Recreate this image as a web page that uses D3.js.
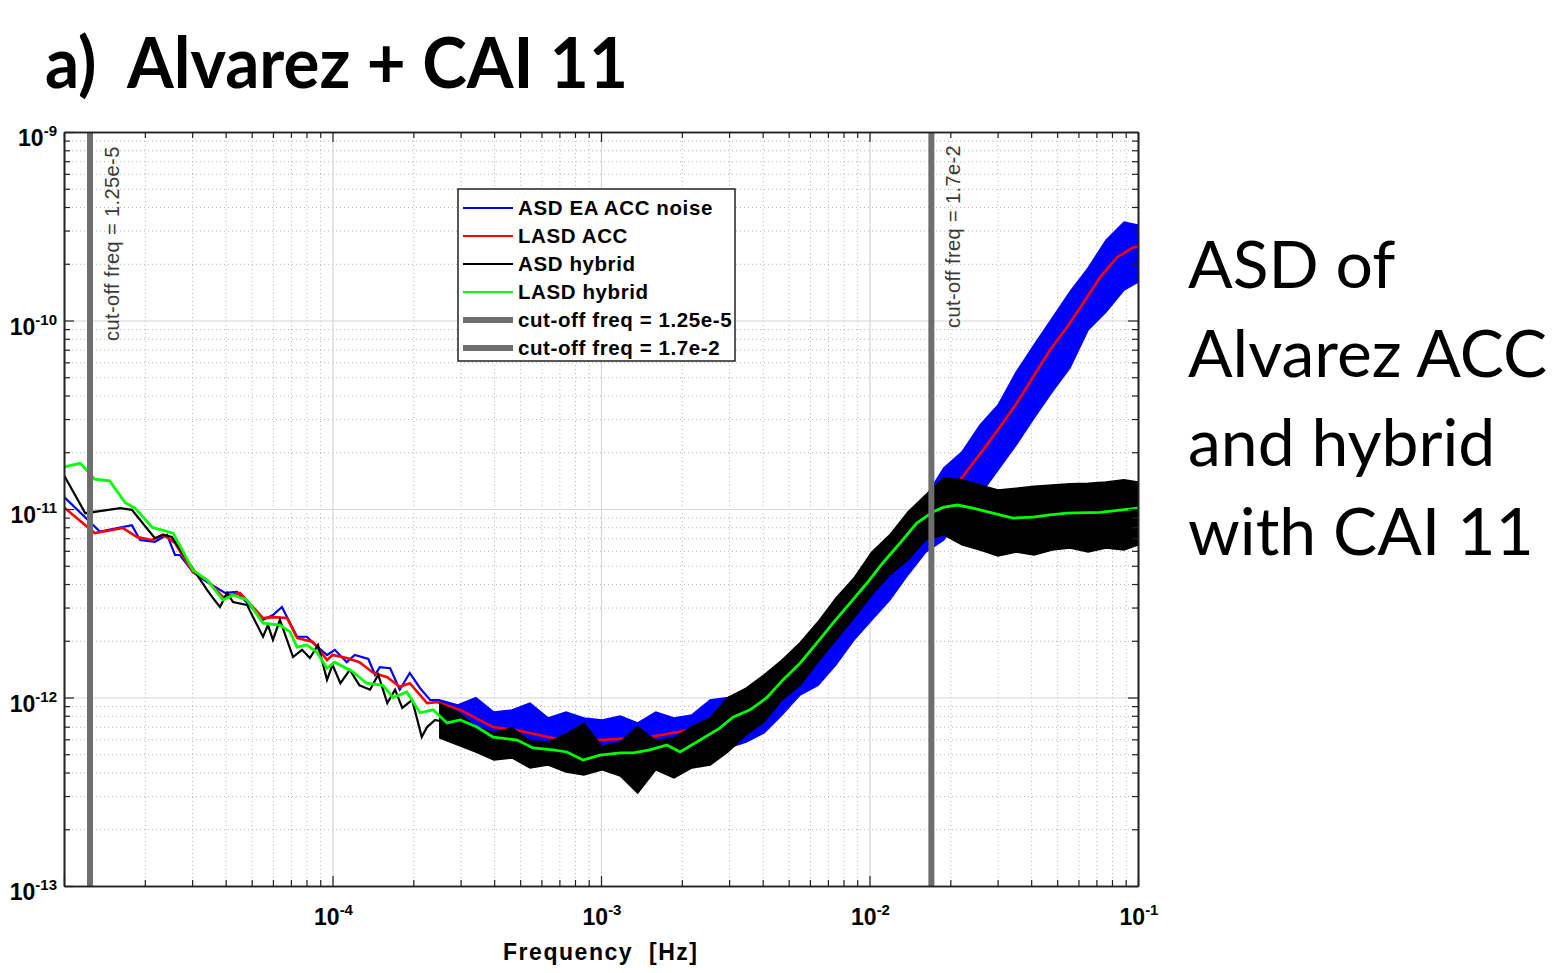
<!DOCTYPE html>
<html>
<head>
<meta charset="utf-8">
<script src="https://cdn.jsdelivr.net/npm/d3@7"></script>
<style>
  body { margin: 0; background: #fff; }
</style>
</head>
<body>
<script>

// ---- data ----
var xTickValues = [1e-4, 1e-3, 1e-2, 1e-1]
var xTickLabels = ["-4", "-3", "-2", "-1"]
var yTickValues = [1e-13, 1e-12, 1e-11, 1e-10, 1e-9]
var yTickLabels = ["-13", "-12", "-11", "-10", "-9"]

var cutoffFreqs = [1.25e-5, 1.7e-2]
var cutoffLabels = ["cut-off freq = 1.25e-5", "cut-off freq = 1.7e-2"]

var legendLabels = ["ASD EA ACC noise", "LASD ACC", "ASD hybrid", "LASD hybrid",
  "cut-off freq = 1.25e-5", "cut-off freq = 1.7e-2"]
var legendColors = ["#0000ff", "#ff0000", "#000000", "#00ff00", "#6e6e6e", "#6e6e6e"]

// low frequency part of the raw ASDs (single traces)
var blueFreq = [1.00e-5,1.36e-5,1.79e-5,1.92e-5,2.18e-5,2.42e-5,2.59e-5,2.70e-5,3.02e-5,3.41e-5,
  3.98e-5,4.41e-5,5.51e-5,6.00e-5,6.48e-5,7.38e-5,8.03e-5,8.46e-5,9.54e-5,1.02e-4,
  1.13e-4,1.21e-4,1.36e-4,1.44e-4,1.50e-4,1.64e-4,1.78e-4,1.94e-4,2.12e-4,2.31e-4,2.51e-4]
var blueAsd = [1.16e-11,7.60e-12,8.20e-12,6.85e-12,6.70e-12,7.30e-12,5.70e-12,5.70e-12,4.63e-12,4.10e-12,
  3.59e-12,3.63e-12,2.58e-12,2.74e-12,3.02e-12,2.10e-12,2.10e-12,1.95e-12,1.68e-12,1.79e-12,
  1.54e-12,1.68e-12,1.60e-12,1.32e-12,1.45e-12,1.43e-12,1.10e-12,1.35e-12,1.12e-12,9.7e-13,9.7e-13]

var blackFreq = [1.00e-5,1.20e-5,1.62e-5,1.79e-5,2.18e-5,2.34e-5,2.52e-5,3.08e-5,3.41e-5,3.59e-5,
  3.81e-5,4.05e-5,4.26e-5,4.80e-5,5.51e-5,5.75e-5,6.00e-5,6.37e-5,7.13e-5,7.70e-5,
  8.24e-5,8.83e-5,9.54e-5,1.00e-4,1.07e-4,1.16e-4,1.26e-4,1.38e-4,1.48e-4,1.60e-4,
  1.71e-4,1.82e-4,1.98e-4,2.15e-4,2.25e-4,2.41e-4,2.51e-4]
var blackAsd = [1.51e-11,9.5e-12,1.01e-11,9.9e-12,7.0e-12,7.3e-12,7.1e-12,4.63e-12,3.72e-12,3.37e-12,
  3.02e-12,3.59e-12,3.21e-12,3.10e-12,2.10e-12,2.42e-12,2.02e-12,2.58e-12,1.64e-12,1.79e-12,
  1.62e-12,1.90e-12,1.24e-12,1.49e-12,1.19e-12,1.40e-12,1.16e-12,1.10e-12,1.32e-12,9.34e-13,
  1.10e-12,8.80e-13,9.7e-13,6.17e-13,6.97e-13,7.6e-13,7.5e-13]

// high frequency part: the noisy ASDs read as upper / lower envelopes
var bandFreq = [2.51e-4,2.93e-4,3.42e-4,3.99e-4,4.66e-4,5.44e-4,6.35e-4,7.41e-4,8.64e-4,1.01e-3,
  1.18e-3,1.37e-3,1.60e-3,1.87e-3,2.18e-3,2.55e-3,2.97e-3,3.47e-3,4.05e-3,4.72e-3,
  5.51e-3,6.43e-3,7.50e-3,8.75e-3,1.02e-2,1.19e-2,1.39e-2,1.62e-2,1.89e-2,2.21e-2,
  2.58e-2,3.01e-2,3.52e-2,4.10e-2,4.79e-2,5.58e-2,6.52e-2,7.60e-2,8.87e-2,1.00e-1]
var blueHi = [9.70e-13,9.13e-13,1.00e-12,8.38e-13,8.59e-13,9.35e-13,7.79e-13,8.38e-13,7.79e-13,7.60e-13,
  7.98e-13,7.33e-13,8.38e-13,7.79e-13,8.08e-13,9.70e-13,1.00e-12,1.10e-12,1.24e-12,1.49e-12,
  1.79e-12,2.28e-12,3.09e-12,3.96e-12,5.37e-12,6.85e-12,8.97e-12,1.16e-11,1.65e-11,2.01e-11,
  2.79e-11,3.56e-11,5.33e-11,7.42e-11,1.03e-10,1.42e-10,1.90e-10,2.67e-10,3.33e-10,3.21e-10]
var blueLo = [7.42e-13,6.89e-13,6.33e-13,5.60e-13,5.40e-13,4.95e-13,4.78e-13,4.66e-13,4.38e-13,4.55e-13,
  4.66e-13,4.66e-13,4.89e-13,4.78e-13,5.02e-13,4.78e-13,5.40e-13,5.81e-13,6.49e-13,8.08e-13,
  1.03e-12,1.16e-12,1.49e-12,2.02e-12,2.58e-12,3.29e-12,4.47e-12,5.91e-12,6.85e-12,9.30e-12,
  1.19e-11,1.61e-11,2.19e-11,3.04e-11,4.18e-11,5.60e-11,8.91e-11,1.11e-10,1.45e-10,1.60e-10]
var blackHi = [9.24e-13,8.38e-13,7.00e-13,6.50e-13,6.90e-13,5.90e-13,5.80e-13,6.40e-13,7.30e-13,5.50e-13,
  5.80e-13,7.00e-13,5.90e-13,6.10e-13,7.00e-13,7.80e-13,1.00e-12,1.12e-12,1.32e-12,1.58e-12,
  1.95e-12,2.52e-12,3.37e-12,4.30e-12,5.91e-12,7.29e-12,9.64e-12,1.19e-11,1.46e-11,1.43e-11,
  1.34e-11,1.26e-11,1.29e-11,1.32e-11,1.34e-11,1.36e-11,1.37e-11,1.39e-11,1.43e-11,1.39e-11]
var blackLo = [6.10e-13,5.60e-13,5.14e-13,4.66e-13,4.78e-13,4.23e-13,4.38e-13,4.03e-13,3.88e-13,4.13e-13,
  3.83e-13,3.11e-13,4.13e-13,3.74e-13,4.23e-13,4.38e-13,5.14e-13,6.33e-13,7.42e-13,9.70e-13,
  1.16e-12,1.54e-12,2.02e-12,2.64e-12,3.50e-12,4.47e-12,5.37e-12,6.85e-12,7.29e-12,6.45e-12,
  6.06e-12,5.63e-12,5.91e-12,5.70e-12,6.06e-12,6.21e-12,5.91e-12,6.21e-12,6.06e-12,6.45e-12]

// smoothed (log-averaged) spectra
var redFreq = [1.00e-5,1.30e-5,1.66e-5,1.87e-5,2.13e-5,2.34e-5,2.59e-5,3.02e-5,3.41e-5,3.91e-5,
  4.52e-5,5.51e-5,6.00e-5,6.77e-5,7.38e-5,8.46e-5,9.54e-5,1.00e-4,1.13e-4,1.26e-4,
  1.42e-4,1.60e-4,1.78e-4,1.94e-4,2.25e-4,2.45e-4,2.99e-4,3.96e-4,4.87e-4,6.62e-4,
  9.91e-4,1.52e-3,2.34e-3,3.59e-3,5.51e-3,8.46e-3,1.30e-2,1.91e-2,2.17e-2,2.65e-2,
  3.06e-2,3.54e-2,4.06e-2,4.70e-2,5.44e-2,6.24e-2,7.21e-2,8.35e-2,9.57e-2,1.00e-1]
var redAsd = [1.02e-11,7.45e-12,7.92e-12,7.10e-12,6.85e-12,7.30e-12,6.60e-12,4.63e-12,4.20e-12,3.41e-12,
  3.59e-12,2.64e-12,2.67e-12,2.64e-12,2.07e-12,1.97e-12,1.58e-12,1.68e-12,1.62e-12,1.54e-12,
  1.35e-12,1.28e-12,1.14e-12,1.19e-12,9.34e-13,9.45e-13,8.60e-13,6.97e-13,6.70e-13,6.10e-13,
  5.95e-13,6.17e-13,6.88e-13,7.80e-13,1.38e-12,2.81e-12,5.85e-12,1.16e-11,1.42e-11,2.06e-11,
  2.72e-11,3.65e-11,5.00e-11,6.97e-11,9.20e-11,1.23e-10,1.69e-10,2.16e-10,2.44e-10,2.47e-10]

var greenFreq = [1.00e-5,1.15e-5,1.30e-5,1.48e-5,1.69e-5,1.84e-5,2.13e-5,2.55e-5,3.02e-5,3.41e-5,
  3.91e-5,4.26e-5,4.80e-5,5.51e-5,6.37e-5,6.95e-5,7.38e-5,8.03e-5,8.75e-5,9.54e-5,
  1.02e-4,1.19e-4,1.34e-4,1.54e-4,1.68e-4,1.89e-4,2.12e-4,2.37e-4,2.67e-4,2.99e-4,
  3.45e-4,3.96e-4,4.87e-4,5.58e-4,6.62e-4,7.47e-4,8.57e-4,9.91e-4,1.18e-3,1.32e-3,
  1.52e-3,1.76e-3,1.97e-3,2.34e-3,2.77e-3,3.10e-3,3.59e-3,4.15e-3,4.76e-3,5.51e-3,
  6.37e-3,7.31e-3,8.46e-3,9.79e-3,1.12e-2,1.30e-2,1.50e-2,1.72e-2,1.88e-2,2.12e-2,
  2.43e-2,2.88e-2,3.42e-2,4.06e-2,4.70e-2,5.44e-2,7.21e-2,1.00e-1]
var greenAsd = [1.67e-11,1.75e-11,1.44e-11,1.41e-11,1.08e-11,1.01e-11,8.0e-12,7.45e-12,4.74e-12,4.20e-12,
  3.29e-12,3.50e-12,3.29e-12,2.48e-12,2.42e-12,2.23e-12,1.85e-12,1.90e-12,1.74e-12,1.43e-12,
  1.54e-12,1.37e-12,1.19e-12,1.16e-12,1.00e-12,1.07e-12,8.30e-13,8.60e-13,7.33e-13,7.60e-13,
  6.97e-13,6.17e-13,5.95e-13,5.40e-13,5.27e-13,5.14e-13,4.66e-13,4.95e-13,5.08e-13,5.08e-13,
  5.27e-13,5.60e-13,5.14e-13,5.95e-13,6.88e-13,7.87e-13,8.60e-13,1.00e-12,1.24e-12,1.52e-12,
  1.95e-12,2.48e-12,3.17e-12,4.05e-12,5.17e-12,6.60e-12,8.43e-12,9.64e-12,1.02e-11,1.05e-11,
  1.01e-11,9.50e-12,8.95e-12,9.06e-12,9.30e-12,9.50e-12,9.60e-12,1.01e-11]

// ---- layout ----
var plotLeft = 64, plotRight = 1138, plotTop = 132, plotBottom = 886
var plotH = plotBottom - plotTop, plotW = plotRight - plotLeft

var svg = d3.select("body").append("svg")
  .attr('width', 1564)
  .attr('height', 973)
  .style('font-family', "'Liberation Sans', Arial, sans-serif")

var x = d3.scaleLog().domain([1e-5, 1e-1]).range([plotLeft, plotRight])
var y = d3.scaleLog().domain([1e-13, 1e-9]).range([plotBottom, plotTop])

function minorTicks(lo, hi) {
  var t = []
  for (var e = lo; e < hi; e++) {
    for (var m = 2; m < 10; m++) t.push(m * Math.pow(10, e))
  }
  return t
}
var xMinor = minorTicks(-5, -1)
var yMinor = minorTicks(-13, -9)
var xMajor = [1e-5].concat(xTickValues)

// ---- grid ----
var grid = svg.append("g")
grid.append("g").attr("transform", "translate(0," + plotBottom + ")")
  .call(d3.axisBottom(x).tickValues(xMinor).tickSize(-plotH).tickFormat(""))
  .call(function(g) { g.select(".domain").remove() })
  .selectAll("line").attr("stroke", "#b5b5b5").attr("stroke-dasharray", "1,3")
grid.append("g").attr("transform", "translate(" + plotLeft + ",0)")
  .call(d3.axisLeft(y).tickValues(yMinor).tickSize(-plotW).tickFormat(""))
  .call(function(g) { g.select(".domain").remove() })
  .selectAll("line").attr("stroke", "#b5b5b5").attr("stroke-dasharray", "1,3")
grid.append("g").attr("transform", "translate(0," + plotBottom + ")")
  .call(d3.axisBottom(x).tickValues(xMajor).tickSize(-plotH).tickFormat(""))
  .call(function(g) { g.select(".domain").remove() })
  .selectAll("line").attr("stroke", "#d6d6d6").attr("stroke-width", 1.2)
grid.append("g").attr("transform", "translate(" + plotLeft + ",0)")
  .call(d3.axisLeft(y).tickValues(yTickValues).tickSize(-plotW).tickFormat(""))
  .call(function(g) { g.select(".domain").remove() })
  .selectAll("line").attr("stroke", "#d6d6d6").attr("stroke-width", 1.2)

// ---- series ----
svg.append("clipPath").attr("id", "plotclip").append("rect")
  .attr("x", plotLeft).attr("y", plotTop).attr("width", plotW).attr("height", plotH)
var plot = svg.append("g").attr("clip-path", "url(#plotclip)")

function pairs(fs, vs) { return fs.map(function(f, i) { return [f, vs[i]] }) }
function bandRows(hi, lo) { return bandFreq.map(function(f, i) { return {f: f, hi: hi[i], lo: lo[i]} }) }

var line = d3.line().x(function(d) { return x(d[0]) }).y(function(d) { return y(d[1]) })
var area = d3.area()
  .x(function(d) { return x(d.f) })
  .y0(function(d) { return y(d.lo) })
  .y1(function(d) { return y(d.hi) })

// blue: raw ASD of the EA accelerometer
plot.append("path").datum(bandRows(blueHi, blueLo)).attr("d", area)
  .attr("fill", "#0000ff").attr("stroke", "#0000ff").attr("stroke-width", 1.5)
plot.append("path").datum(pairs(blueFreq, blueAsd)).attr("d", line)
  .attr("fill", "none").attr("stroke", "#0000ff").attr("stroke-width", 2.2)

// red: LASD ACC
plot.append("path").datum(pairs(redFreq, redAsd)).attr("d", line)
  .attr("fill", "none").attr("stroke", "#ff0000").attr("stroke-width", 2.6)

// black: raw ASD hybrid
plot.append("path").datum(bandRows(blackHi, blackLo)).attr("d", area)
  .attr("fill", "#000").attr("stroke", "#000").attr("stroke-width", 1.5)
plot.append("path").datum(pairs(blackFreq, blackAsd)).attr("d", line)
  .attr("fill", "none").attr("stroke", "#000").attr("stroke-width", 2.2)

// green: LASD hybrid
plot.append("path").datum(pairs(greenFreq, greenAsd)).attr("d", line)
  .attr("fill", "none").attr("stroke", "#00ff00").attr("stroke-width", 2.8)

// cut-off lines
cutoffFreqs.forEach(function(f, i) {
  plot.append("line")
    .attr("x1", x(f)).attr("x2", x(f)).attr("y1", plotTop).attr("y2", plotBottom)
    .attr("stroke", "#6e6e6e").attr("stroke-width", 6)
  svg.append("text")
    .attr("transform", "translate(" + (x(f) + 29) + "," + (i == 0 ? 341 : 328) + ") rotate(-90)")
    .attr("font-size", 20).attr("letter-spacing", 0.4).attr("fill", "#3a3a3a")
    .text(cutoffLabels[i])
})

// ---- axes (ticks inward on all four sides) ----
function tickAxis(axis, tf, vals, size) {
  svg.append("g").attr("transform", tf)
    .call(axis.tickValues(vals).tickSizeInner(size).tickSizeOuter(0).tickFormat(""))
    .call(function(g) { g.select(".domain").attr("stroke", "#222").attr("stroke-width", 1.6) })
    .selectAll("line").attr("stroke", "#222").attr("stroke-width", 1.2)
}
tickAxis(d3.axisBottom(x), "translate(0," + plotBottom + ")", xMajor, -10)
tickAxis(d3.axisBottom(x), "translate(0," + plotBottom + ")", xMinor, -6)
tickAxis(d3.axisTop(x), "translate(0," + plotTop + ")", xMajor, -10)
tickAxis(d3.axisTop(x), "translate(0," + plotTop + ")", xMinor, -6)
tickAxis(d3.axisLeft(y), "translate(" + plotLeft + ",0)", yTickValues, -10)
tickAxis(d3.axisLeft(y), "translate(" + plotLeft + ",0)", yMinor, -6)
tickAxis(d3.axisRight(y), "translate(" + plotRight + ",0)", yTickValues, -10)
tickAxis(d3.axisRight(y), "translate(" + plotRight + ",0)", yMinor, -6)

// tick labels 10^n
xTickValues.forEach(function(v, i) {
  var t = svg.append("text").attr("x", x(v) + 1).attr("y", plotBottom + 39)
    .attr("text-anchor", "middle").attr("font-weight", "bold").attr("font-size", 23)
  t.append("tspan").text("10")
  t.append("tspan").attr("dy", -10).attr("font-size", 15).text(xTickLabels[i])
})
yTickValues.forEach(function(v, i) {
  var t = svg.append("text").attr("x", 57).attr("y", y(v) + 14)
    .attr("text-anchor", "end").attr("font-weight", "bold").attr("font-size", 23)
  t.append("tspan").text("10")
  t.append("tspan").attr("dy", -10).attr("font-size", 15).text(yTickLabels[i])
})

svg.append("text").attr("x", 503).attr("y", 960)
  .attr("font-weight", "bold").attr("font-size", 23)
  .attr("textLength", 194).attr("lengthAdjust", "spacing")
  .attr("xml:space", "preserve").text("Frequency  [Hz]")

// ---- legend ----
var legend = svg.append("g").attr("transform", "translate(458,189)")
legend.append("rect").attr("width", 277).attr("height", 172)
  .attr("fill", "#fff").attr("stroke", "#222").attr("stroke-width", 1.5)
legendLabels.forEach(function(lab, i) {
  var yy = 19 + i * 28
  legend.append("line").attr("x1", 5).attr("x2", 55).attr("y1", yy).attr("y2", yy)
    .attr("stroke", legendColors[i]).attr("stroke-width", i < 4 ? 2.2 : 6)
  legend.append("text").attr("x", 60).attr("y", yy + 7)
    .attr("font-weight", "bold").attr("font-size", 20.5).attr("letter-spacing", 0.6).text(lab)
})

// ---- titles ----
svg.append("text").attr("x", 45).attr("y", 88)
  .attr("font-family", "Lato, 'Open Sans', sans-serif").attr("font-weight", "bold")
  .attr("font-size", 70).attr("textLength", 583).attr("lengthAdjust", "spacingAndGlyphs")
  .attr("xml:space", "preserve").text("a)  Alvarez + CAI 11")

var sideLines = ["ASD of", "Alvarez ACC", "and hybrid", "with CAI 11"]
sideLines.forEach(function(s, i) {
  svg.append("text").attr("x", 1188).attr("y", 288 + i * 89)
    .attr("font-family", "Lato, 'Open Sans', sans-serif")
    .attr("font-size", 66).text(s)
})

</script>
</body>
</html>
